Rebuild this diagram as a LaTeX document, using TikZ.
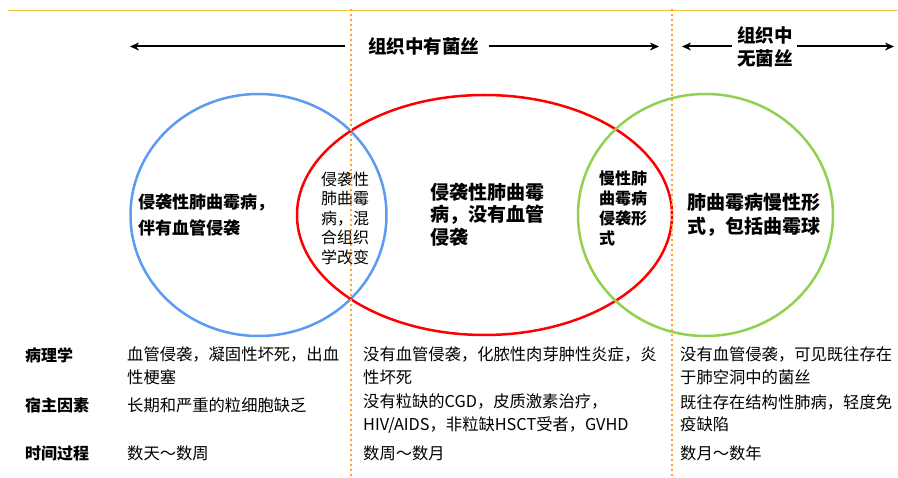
\documentclass[tikz,border=0pt]{standalone}
\usepackage{fontspec}
\setmainfont{Noto Sans CJK SC}
\usetikzlibrary{arrows.meta}
\definecolor{topline}{HTML}{F5C342}
\definecolor{dotline}{HTML}{FFA22E}
\definecolor{cblue}{HTML}{5B9BF0}
\definecolor{cred}{HTML}{FF0000}
\definecolor{cgreen}{HTML}{92D050}
\tikzset{
  arr/.style={line width=2pt,-{Stealth[length=9pt,width=8pt]}},
  divider/.style={dotline,line width=2.5pt,dash pattern=on 2.5pt off 2.5pt},
  txt/.style={inner sep=0pt,anchor=west,align=left},
  ttl/.style={inner sep=0pt,font=\fontsize{18.5}{23}\selectfont\bfseries},
  lbl/.style={txt,font=\fontsize{16}{22}\selectfont\bfseries},
  cell/.style={txt,font=\fontsize{16.3}{22.5}\selectfont},
}
\begin{document}
\begin{tikzpicture}[x=1pt,y=-1pt]
\useasboundingbox (0,0) rectangle (898,478);
% top line
\coordinate (tl1) at (8,11);
\coordinate (tl2) at (898,11);
\draw[topline,line width=1pt] (tl1) -- (tl2);
% circles
\draw[cblue,line width=2.5pt] (258.5,215) ellipse [x radius=128,y radius=121];
\draw[cred,line width=2.5pt] (484.5,215) ellipse [x radius=187.5,y radius=120];
\draw[cgreen,line width=2.5pt] (705.5,215) ellipse [x radius=127.5,y radius=121];
% dividers
\coordinate (d1a) at (351,9);
\coordinate (d1b) at (351,478);
\coordinate (d2a) at (672,9);
\coordinate (d2b) at (672,478);
% titles
\node[ttl,anchor=west] (t1) at (368,46) {组织中有菌丝};
\node[ttl,align=center] (t2) at (765,46.5) {组织中\\无菌丝};
\coordinate (a1s) at (345,46.5);
\coordinate (a1e) at (130,46.5);
\coordinate (a2s) at (489,46.5);
\coordinate (a2e) at (659,46.5);
\coordinate (a3s) at (732,46.5);
\coordinate (a3e) at (682,46.5);
\coordinate (a4s) at (797,46.5);
\coordinate (a4e) at (894,46.5);
\draw[arr] (a1s) -- (a1e);
\draw[arr] (a2s) -- (a2e);
\draw[arr] (a3s) -- (a3e);
\draw[arr] (a4s) -- (a4e);
% circle texts
\node[txt,font=\fontsize{17}{26}\selectfont\bfseries] (b) at (138,215) {侵袭性肺曲霉病，\\伴有血管侵袭};
\node[txt,font=\fontsize{16}{19.5}\selectfont] (br) at (321,218) {侵袭性\\肺曲霉\\病，混\\合组织\\学改变};
\node[txt,font=\fontsize{19}{22.5}\selectfont\bfseries] (r) at (430,214.5) {侵袭性肺曲霉\\病，没有血管\\侵袭};
\node[txt,font=\fontsize{16}{20}\selectfont\bfseries] (rg) at (599,208) {慢性肺\\曲霉病\\侵袭形\\式};
\node[txt,font=\fontsize{19}{24}\selectfont\bfseries] (g) at (687,215) {肺曲霉病慢性形\\式，包括曲霉球};
\draw[divider] (d1a) -- (d1b);
\draw[divider] (d2a) -- (d2b);
% table
\node[lbl] (l1) at (25,355) {病理学};
\node[lbl] (l2) at (25,405) {宿主因素};
\node[lbl] (l3) at (25,453) {时间过程};
\node[cell] (c11) at (127,366) {血管侵袭，凝固性坏死，出血\\性梗塞};
\node[cell] (c12) at (127,405) {长期和严重的粒细胞缺乏};
\node[cell] (c13) at (127,453) {数天～数周};
\node[cell] (c21) at (363,366) {没有血管侵袭，化脓性肉芽肿性炎症，炎\\性坏死};
\node[cell] (c22) at (363,413.5) {没有粒缺的CGD，皮质激素治疗，\\HIV/AIDS，非粒缺HSCT受者，GVHD};
\node[cell] (c23) at (363,453) {数周～数月};
\node[cell] (c31) at (680,366) {没有血管侵袭，可见既往存在\\于肺空洞中的菌丝};
\node[cell] (c32) at (680,413.5) {既往存在结构性肺病，轻度免\\疫缺陷};
\node[cell] (c33) at (680,453) {数月～数年};
\end{tikzpicture}
\end{document}
